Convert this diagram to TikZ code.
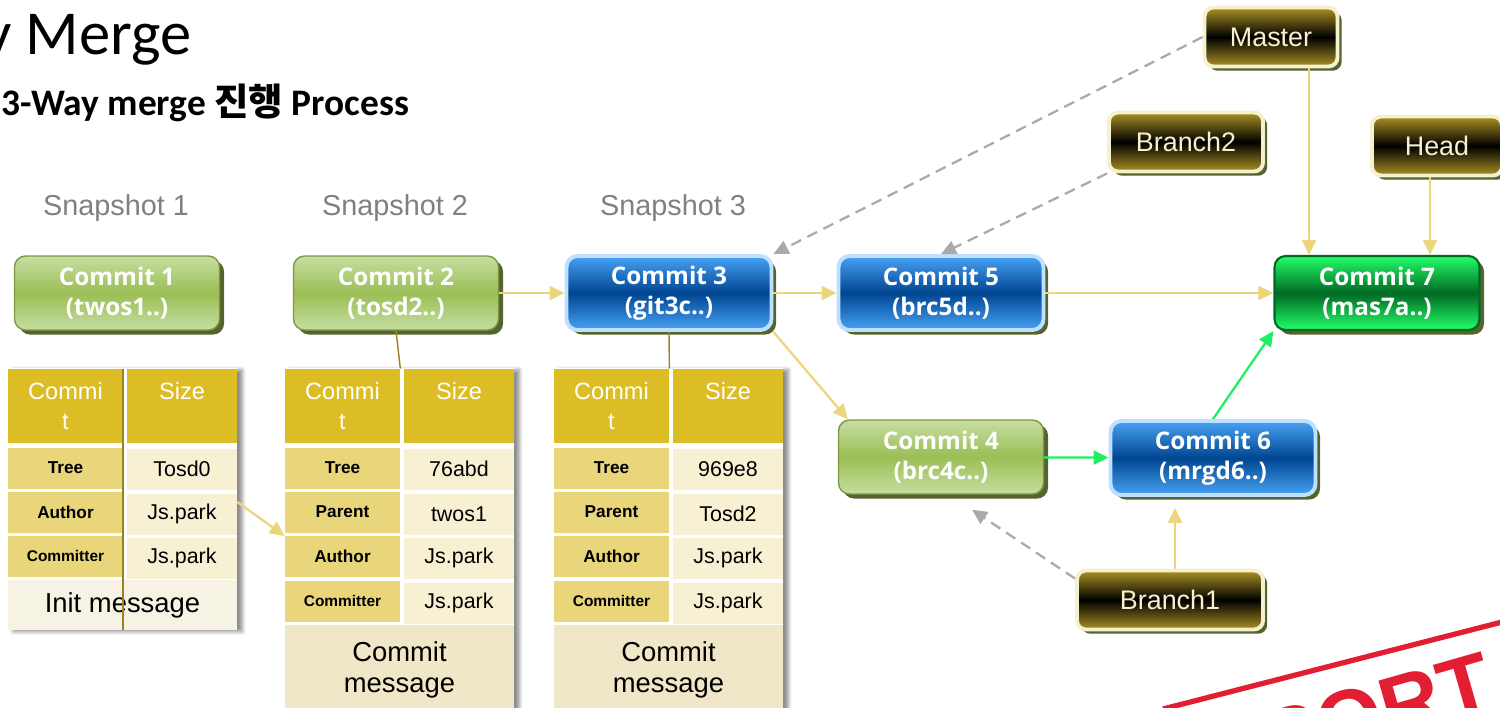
\documentclass[tikz,border=0pt]{standalone}
\usepackage{fontspec}
\setmainfont{Liberation Sans}
\newfontfamily\titlefont{Carlito}
\newfontfamily\kofont{Noto Sans CJK KR}
\newfontfamily\boxfont{Open Sans}
\usetikzlibrary{arrows.meta,positioning,shadows,shadows.blur}

\definecolor{cmtgreen}{RGB}{155,190,85}
\definecolor{cmtgreenlt}{RGB}{198,222,160}
\definecolor{cmtblue}{RGB}{0,70,145}
\definecolor{cmtbluelt}{RGB}{72,162,245}
\definecolor{cmtblueedge}{RGB}{190,225,255}
\definecolor{mrggreen}{RGB}{0,105,35}
\definecolor{mrggreenlt}{RGB}{35,255,105}
\definecolor{refgold}{RGB}{170,145,35}
\definecolor{refedge}{RGB}{245,240,205}
\definecolor{shade}{RGB}{85,100,45}
\definecolor{hdrfill}{RGB}{221,189,37}
\definecolor{keyfill}{RGB}{233,213,122}
\definecolor{valfill}{RGB}{248,240,210}
\definecolor{msgfill}{RGB}{240,230,200}
\definecolor{initfill}{RGB}{246,242,228}
\definecolor{linkyel}{RGB}{235,213,125}
\definecolor{linkgrn}{RGB}{30,240,100}
\definecolor{linkgray}{RGB}{170,170,170}
\definecolor{tiegold}{RGB}{155,130,30}
\definecolor{snapgray}{RGB}{128,128,128}
\definecolor{stampred}{RGB}{225,30,50}

\begin{document}
\begin{tikzpicture}[x=0.02cm, y=-0.02cm,
    cmt/.style={rounded corners=0.22cm, minimum width=4.1cm, minimum height=1.48cm,
      align=center, text=white, font=\boxfont\bfseries\fontsize{13.8}{17}\selectfont,
      drop shadow={shadow xshift=2.6pt, shadow yshift=-2.6pt, fill=shade, opacity=1}},
    plain/.style={cmt, draw=cmtgreen!80!black, line width=0.8pt,
      top color=cmtgreenlt, bottom color=cmtgreenlt, middle color=cmtgreen},
    branch/.style={cmt, draw=cmtblueedge, line width=2.2pt,
      top color=cmtbluelt, bottom color=cmtbluelt, middle color=cmtblue},
    merged/.style={cmt, draw=mrggreen, line width=1.2pt,
      top color=mrggreenlt, bottom color=mrggreenlt, middle color=mrggreen},
    ref/.style={rounded corners=0.18cm, draw=refedge, line width=2.2pt,
      top color=refgold, bottom color=refgold, middle color=black, text=refedge,
      minimum height=1.18cm, font=\fontsize{15.3}{18}\selectfont,
      drop shadow={shadow xshift=2.4pt, shadow yshift=-2.4pt, fill=shade, opacity=1}},
    snap/.style={text=snapgray, font=\fontsize{16.4}{19}\selectfont},
    hdr/.style={fill=hdrfill, text=white, minimum width=2.3cm, minimum height=1.48cm,
      inner sep=0pt, align=center, font=\fontsize{13.4}{17}\selectfont},
    key/.style={fill=keyfill, minimum width=2.3cm, minimum height=0.82cm, inner sep=0pt,
      font=\bfseries\fontsize{9.8}{11}\selectfont},
    val/.style={fill=valfill, minimum width=2.2cm, minimum height=0.82cm, inner sep=0pt,
      font=\fontsize{12.2}{14}\selectfont},
    msg/.style={fill=msgfill, minimum width=4.58cm, inner sep=0pt, align=center,
      font=\fontsize{15.6}{18}\selectfont},
    link/.style={draw=linkyel, line width=1.3pt, -{Triangle[length=0.3cm, width=0.28cm]}},
    mlink/.style={link, draw=linkgrn},
    ptr/.style={draw=linkgray, line width=1.3pt, dash pattern=on 0.22cm off 0.14cm,
      -{Triangle[length=0.3cm, width=0.28cm]}},
    tie/.style={draw=tiegold, line width=0.8pt}
  ]
  \useasboundingbox (0,0) rectangle (1500,707);
  \clip (0,0) rectangle (1500,707);

  % headings
  \node[anchor=base west, inner sep=0pt, font=\titlefont\fontsize{35.6}{36}\selectfont]
    (title) at (-17,54) {y Merge};
  \node[anchor=base west, inner sep=0pt, font=\titlefont\bfseries\fontsize{21.3}{24}\selectfont]
    (subtitle) at (1,115) {3-Way merge {\kofont\bfseries 진행} Process};

  \node[snap] (snap1) at (116,208) {Snapshot 1};
  \node[snap] (snap2) at (395,208) {Snapshot 2};
  \node[snap] (snap3) at (673,208) {Snapshot 3};

  % commits
  \node[plain] (c1) at (117,293) {Commit 1\\(twos1..)};
  \node[plain] (c2) at (396,293) {Commit 2\\(tosd2..)};
  \node[branch] (c3) at (669,293) {Commit 3\\(git3c..)};
  \node[branch] (c5) at (941,293) {Commit 5\\(brc5d..)};
  \node[plain] (c4) at (941,457) {Commit 4\\(brc4c..)};
  \node[branch] (c6) at (1213,458) {Commit 6\\(mrgd6..)};
  \node[merged] (c7) at (1377,293) {Commit 7\\(mas7a..)};

  % references
  \node[ref, minimum width=2.66cm] (master) at (1271,37) {Master};
  \node[ref, minimum width=3.08cm] (branch2) at (1186,142) {Branch2};
  \node[ref, minimum width=2.6cm] (head) at (1437,146) {Head};
  \node[ref, minimum width=3.72cm] (branch1) at (1170,600) {Branch1};

  % snapshot tables
  \begin{scope}[shift={(8,0)}]
    \path[fill=white, blur shadow={shadow xshift=3pt, shadow yshift=-1pt, shadow opacity=45}]
      (0,368) rectangle (229,630);
    \node[hdr] (t1h) at (57.5,406) {Commi\\t};
    \node[hdr, minimum width=2.2cm] (t1s) at (174,406) {Size\\\phantom{t}};
    \node[key] (t1k1) at (57.5,468) {Tree};
    \node[val] (t1v1) at (174,469) {Tosd0};
    \node[key] (t1k2) at (57.5,512) {Author};
    \node[val] (t1v2) at (174,514) {Js.park};
    \node[key, font=\bfseries\fontsize{8.8}{10}\selectfont] (t1k3) at (57.5,556) {Committer};
    \node[val] (t1v3) at (174,558) {Js.park};
    \node[msg, fill=initfill, minimum height=1.0cm] (t1m) at (114.5,605) {Init message};
  \end{scope}

  \begin{scope}[shift={(285,0)}]
    \path[fill=white, blur shadow={shadow xshift=3pt, shadow yshift=-1pt, shadow opacity=45}]
      (0,368) rectangle (229,720);
    \node[hdr] (t2h) at (57.5,406) {Commi\\t};
    \node[hdr, minimum width=2.2cm] (t2s) at (174,406) {Size\\\phantom{t}};
    \node[key] (t2k1) at (57.5,468) {Tree};
    \node[val] (t2v1) at (174,469) {76abd};
    \node[key] (t2k2) at (57.5,512) {Parent};
    \node[val] (t2v2) at (174,514) {twos1};
    \node[key] (t2k3) at (57.5,556) {Author};
    \node[val] (t2v3) at (174,558) {Js.park};
    \node[key, font=\bfseries\fontsize{8.8}{10}\selectfont] (t2k4) at (57.5,601) {Committer};
    \node[val] (t2v4) at (174,603) {Js.park};
    \node[msg, minimum height=1.8cm] (t2m) at (114.5,670) {Commit\\message};
  \end{scope}

  \begin{scope}[shift={(554,0)}]
    \path[fill=white, blur shadow={shadow xshift=3pt, shadow yshift=-1pt, shadow opacity=45}]
      (0,368) rectangle (229,720);
    \node[hdr] (t3h) at (57.5,406) {Commi\\t};
    \node[hdr, minimum width=2.2cm] (t3s) at (174,406) {Size\\\phantom{t}};
    \node[key] (t3k1) at (57.5,468) {Tree};
    \node[val] (t3v1) at (174,469) {969e8};
    \node[key] (t3k2) at (57.5,512) {Parent};
    \node[val] (t3v2) at (174,514) {Tosd2};
    \node[key] (t3k3) at (57.5,556) {Author};
    \node[val] (t3v3) at (174,558) {Js.park};
    \node[key, font=\bfseries\fontsize{8.8}{10}\selectfont] (t3k4) at (57.5,601) {Committer};
    \node[val] (t3v4) at (174,603) {Js.park};
    \node[msg, minimum height=1.8cm] (t3m) at (114.5,670) {Commit\\message};
  \end{scope}

  % history
  \draw[link] (c2) -- (c3);
  \draw[link] (c3) -- (c5);
  \draw[link] (c3.south east) -- ([xshift=0.2cm]c4.north west);
  \draw[link] (c5) -- (c7);
  \draw[mlink] (c4) -- (c6);
  \draw[mlink] (c6.north) -- (c7.south west);

  % pointers
  \draw[link] ([xshift=0.76cm]master.south) -- ([xshift=0.76cm]master.south |- c7.north);
  \draw[link] ([xshift=-0.14cm]head.south) -- ([xshift=-0.14cm]head.south |- c7.north);
  \draw[link, shorten >=0.22cm] ([xshift=0.1cm]branch1.north) -- ([xshift=0.1cm]branch1.north |- c6.south);
  \draw[ptr] (master.west) -- (c3.north east);
  \draw[ptr] (branch2.south west) -- (c5.north);
  \draw[ptr] ([yshift=-0.2cm]branch1.north west) -- ([xshift=0.62cm,yshift=-0.3cm]c4.south);

  % table ties
  \draw[tie] (c2.south) -- (t2h.north east);
  \draw[tie] (c3.south) -- (t3h.north east);
  \draw[tie, line width=1.2pt] (t1h.north east) -- (t1h.north east |- t1m.south);
  \draw[link] ([yshift=0.24cm]t1v2.east) -- ([yshift=0.4cm]t2k3.west);

  % stamp
  \draw[stampred, line width=3pt] (1163,709) -- (1502,622);
  \node[anchor=base west, inner sep=0pt, rotate=16, text=stampred,
    font=\bfseries\fontsize{48}{48}\selectfont] (stamp) at (1272,772) {PORT};
\end{tikzpicture}
\end{document}
